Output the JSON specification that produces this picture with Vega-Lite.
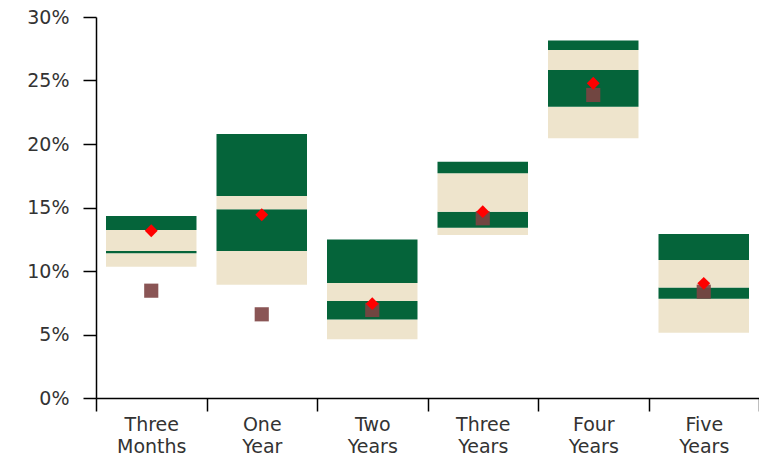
{
  "$schema": "https://vega.github.io/schema/vega-lite/v6.json",
  "width": 663,
  "height": 381,
  "autosize": "none",
  "padding": {"left": 96, "top": 17, "right": 0, "bottom": 62},
  "background": "white",
  "datasets": {
    "bands": [
      {"term": "Three Months", "low": 10.34, "high": 11.4, "band": "beige"},
      {"term": "Three Months", "low": 11.4, "high": 11.58, "band": "dark"},
      {"term": "Three Months", "low": 11.58, "high": 13.23, "band": "beige"},
      {"term": "Three Months", "low": 13.23, "high": 14.33, "band": "dark"},
      {"term": "One Year", "low": 8.92, "high": 11.57, "band": "beige"},
      {"term": "One Year", "low": 11.57, "high": 14.86, "band": "dark"},
      {"term": "One Year", "low": 14.86, "high": 15.91, "band": "beige"},
      {"term": "One Year", "low": 15.91, "high": 20.79, "band": "dark"},
      {"term": "Two Years", "low": 4.62, "high": 6.19, "band": "beige"},
      {"term": "Two Years", "low": 6.19, "high": 7.64, "band": "dark"},
      {"term": "Two Years", "low": 7.64, "high": 9.06, "band": "beige"},
      {"term": "Two Years", "low": 9.06, "high": 12.49, "band": "dark"},
      {"term": "Three Years", "low": 12.83, "high": 13.41, "band": "beige"},
      {"term": "Three Years", "low": 13.41, "high": 14.67, "band": "dark"},
      {"term": "Three Years", "low": 14.67, "high": 17.69, "band": "beige"},
      {"term": "Three Years", "low": 17.69, "high": 18.61, "band": "dark"},
      {"term": "Four Years", "low": 20.45, "high": 22.94, "band": "beige"},
      {"term": "Four Years", "low": 22.94, "high": 25.83, "band": "dark"},
      {"term": "Four Years", "low": 25.83, "high": 27.4, "band": "beige"},
      {"term": "Four Years", "low": 27.4, "high": 28.14, "band": "dark"},
      {"term": "Five Years", "low": 5.14, "high": 7.82, "band": "beige"},
      {"term": "Five Years", "low": 7.82, "high": 8.71, "band": "dark"},
      {"term": "Five Years", "low": 8.71, "high": 10.87, "band": "beige"},
      {"term": "Five Years", "low": 10.87, "high": 12.91, "band": "dark"}
    ],
    "points": [
      {"term": "Three Months", "expected": 13.17, "actual": 8.45},
      {"term": "One Year", "expected": 14.43, "actual": 6.59},
      {"term": "Two Years", "expected": 7.43, "actual": 6.93},
      {"term": "Three Years", "expected": 14.67, "actual": 14.15},
      {"term": "Four Years", "expected": 24.78, "actual": 23.86},
      {"term": "Five Years", "expected": 9.03, "actual": 8.37}
    ]
  },
  "encoding": {
    "x": {
      "field": "term",
      "type": "nominal",
      "sort": null,
      "title": null,
      "scale": {
        "domain": ["Three Months", "One Year", "Two Years", "Three Years", "Four Years", "Five Years"],
        "paddingInner": 0,
        "paddingOuter": 0
      },
      "axis": {
        "labelAngle": 0,
        "tickBand": "extent",
        "tickSize": 13,
        "labelPadding": 4,
        "labelExpr": "split(datum.label, ' ')",
        "labelLineHeight": 22
      }
    }
  },
  "layer": [
    {
      "data": {"name": "bands"},
      "mark": {"type": "bar", "width": {"band": 0.819}},
      "encoding": {
        "y": {
          "field": "low",
          "type": "quantitative",
          "title": null,
          "scale": {"domain": [0, 30], "nice": false},
          "axis": {
            "values": [0, 5, 10, 15, 20, 25, 30],
            "labelExpr": "datum.value + '%'",
            "tickSize": 13,
            "labelPadding": 14,
            "grid": false
          }
        },
        "y2": {"field": "high"},
        "color": {
          "field": "band",
          "type": "nominal",
          "legend": null,
          "scale": {"domain": ["beige", "dark"], "range": ["#EEE4CC", "#05643A"]}
        }
      }
    },
    {
      "data": {"name": "points"},
      "mark": {"type": "point", "shape": "square", "filled": true, "size": 200, "color": "#7D4343", "opacity": 0.9},
      "encoding": {
        "y": {"field": "actual", "type": "quantitative"}
      }
    },
    {
      "data": {"name": "points"},
      "mark": {"type": "point", "shape": "diamond", "filled": true, "size": 165, "color": "#FF0000", "opacity": 1},
      "encoding": {
        "y": {"field": "expected", "type": "quantitative"}
      }
    }
  ],
  "config": {
    "view": {"stroke": null},
    "axis": {
      "labelFont": "DejaVu Sans",
      "labelFontSize": 19,
      "labelColor": "#333333",
      "domainColor": "#000000",
      "tickColor": "#000000",
      "domainWidth": 1.5,
      "tickWidth": 1.5
    }
  }
}
